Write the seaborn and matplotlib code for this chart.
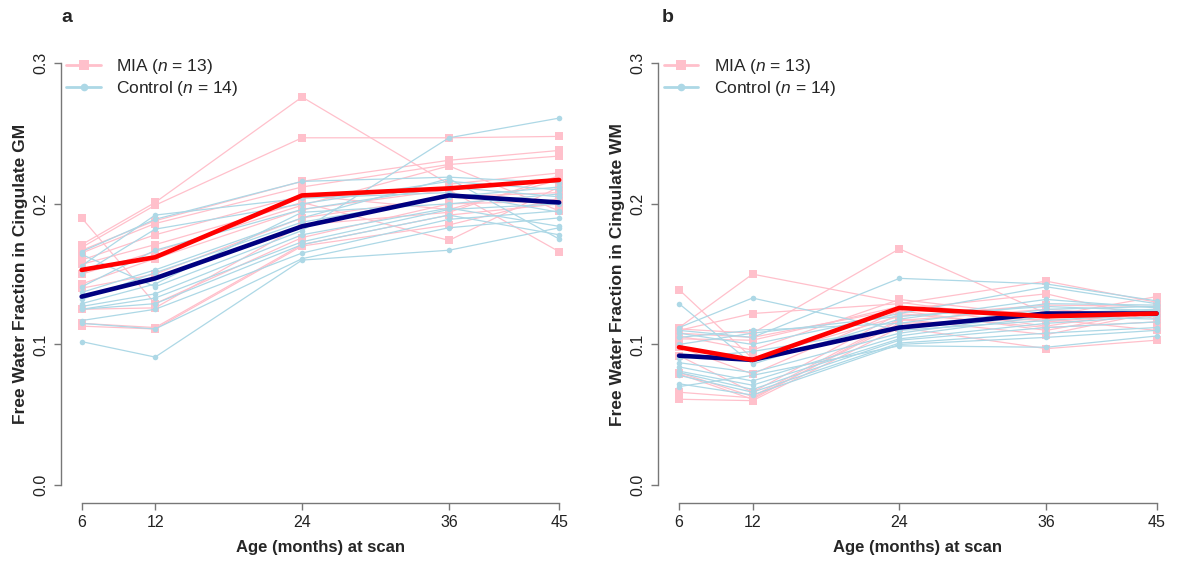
import pandas as pd
import matplotlib
matplotlib.use('Agg')
import matplotlib.pyplot as plt
from matplotlib.lines import Line2D
import seaborn as sns

'''
Free water fraction in cingulate GM / WM, MIA vs control,
thin lines = single animals, thick lines = group means
'''

ages = [6, 12, 24, 36, 45]
age_ticks = [6, 12, 24, 36, 45]
y_ticks = [0.0, 0.1, 0.2, 0.3]
y_ticklabels = ['0.0', '0.1', '0.2', '0.3']

#cingulate GM, one row per animal (values at 6, 12, 24, 36, 45 months)
gm_mia = [
    [0.190, 0.129, 0.176, 0.200, 0.202],
    [0.171, 0.201, 0.276, 0.214, 0.222],
    [0.169, 0.199, 0.247, 0.247, 0.248],
    [0.167, 0.188, 0.216, 0.231, 0.238],
    [0.165, 0.186, 0.212, 0.228, 0.234],
    [0.160, 0.178, 0.206, 0.196, 0.217],
    [0.157, 0.171, 0.201, 0.174, 0.212],
    [0.150, 0.166, 0.199, 0.227, 0.195],
    [0.143, 0.161, 0.196, 0.210, 0.166],
    [0.140, 0.150, 0.190, 0.205, 0.208],
    [0.125, 0.126, 0.185, 0.194, 0.220],
    [0.115, 0.112, 0.171, 0.192, 0.200],
    [0.113, 0.111, 0.170, 0.185, 0.204],
]
gm_control = [
    [0.166, 0.189, 0.216, 0.219, 0.215],
    [0.164, 0.141, 0.181, 0.247, 0.261],
    [0.156, 0.192, 0.204, 0.208, 0.194],
    [0.150, 0.182, 0.200, 0.216, 0.210],
    [0.141, 0.167, 0.196, 0.212, 0.205],
    [0.137, 0.153, 0.190, 0.218, 0.175],
    [0.132, 0.151, 0.187, 0.205, 0.212],
    [0.129, 0.143, 0.194, 0.200, 0.207],
    [0.127, 0.136, 0.178, 0.197, 0.184],
    [0.125, 0.133, 0.173, 0.196, 0.200],
    [0.125, 0.129, 0.171, 0.192, 0.178],
    [0.117, 0.125, 0.165, 0.189, 0.195],
    [0.115, 0.111, 0.161, 0.183, 0.190],
    [0.102, 0.091, 0.160, 0.167, 0.183],
]
gm_mia_mean = [0.153, 0.162, 0.206, 0.211, 0.217]
gm_control_mean = [0.134, 0.147, 0.184, 0.206, 0.201]

#cingulate WM
wm_mia = [
    [0.139, 0.090, 0.120, 0.128, 0.127],
    [0.112, 0.150, 0.130, 0.116, 0.122],
    [0.111, 0.108, 0.168, 0.122, 0.121],
    [0.110, 0.122, 0.129, 0.145, 0.130],
    [0.108, 0.105, 0.125, 0.136, 0.118],
    [0.106, 0.096, 0.132, 0.120, 0.134],
    [0.104, 0.103, 0.127, 0.113, 0.125],
    [0.098, 0.079, 0.124, 0.110, 0.124],
    [0.092, 0.066, 0.122, 0.112, 0.116],
    [0.080, 0.063, 0.118, 0.107, 0.123],
    [0.079, 0.061, 0.117, 0.125, 0.120],
    [0.066, 0.062, 0.115, 0.118, 0.110],
    [0.061, 0.060, 0.112, 0.097, 0.103],
]
wm_control = [
    [0.129, 0.086, 0.118, 0.132, 0.126],
    [0.112, 0.133, 0.110, 0.117, 0.122],
    [0.110, 0.105, 0.147, 0.143, 0.131],
    [0.108, 0.100, 0.122, 0.141, 0.129],
    [0.105, 0.110, 0.115, 0.129, 0.128],
    [0.100, 0.108, 0.120, 0.127, 0.124],
    [0.090, 0.095, 0.112, 0.125, 0.127],
    [0.087, 0.080, 0.108, 0.122, 0.125],
    [0.084, 0.074, 0.106, 0.120, 0.118],
    [0.081, 0.071, 0.104, 0.115, 0.120],
    [0.080, 0.068, 0.103, 0.112, 0.116],
    [0.078, 0.066, 0.101, 0.108, 0.112],
    [0.072, 0.064, 0.100, 0.105, 0.110],
    [0.070, 0.078, 0.099, 0.098, 0.106],
]
wm_mia_mean = [0.098, 0.089, 0.126, 0.120, 0.122]
wm_control_mean = [0.092, 0.089, 0.112, 0.122, 0.122]

n_mia = 13
n_control = 14

#style, R base graphics look
sns.set_style('ticks')
plt.rcParams['font.family'] = ['Liberation Sans', 'DejaVu Sans']
plt.rcParams['mathtext.fontset'] = 'custom'
plt.rcParams['mathtext.rm'] = 'Liberation Sans'
plt.rcParams['mathtext.it'] = 'Liberation Sans:italic'

axis_grey = '#777777'


def to_long(rows, group):
    recs = []
    for i, row in enumerate(rows):
        for age, v in zip(ages, row):
            recs.append((f'{group}_{i}', group, age, v))
    return pd.DataFrame(recs, columns=['subject', 'group', 'age', 'fwf'])


def draw_panel(ax, mia, control, mia_mean, control_mean, region):
    df_mia = to_long(mia, 'MIA')
    df_con = to_long(control, 'Control')

    #single animals
    sns.lineplot(data=df_mia, x='age', y='fwf', units='subject', estimator=None,
                 color='pink', lw=0.9, marker='s', markersize=5.2,
                 markeredgewidth=0, ax=ax, legend=False)
    sns.lineplot(data=df_con, x='age', y='fwf', units='subject', estimator=None,
                 color='lightblue', lw=0.9, marker='o', markersize=4.0,
                 markeredgewidth=0, ax=ax, legend=False)

    #group means
    sns.lineplot(x=ages, y=control_mean, color='navy', lw=3.3, ax=ax)
    sns.lineplot(x=ages, y=mia_mean, color='red', lw=3.3, ax=ax)

    ax.set_xlim(4.31, 46.7)
    ax.set_ylim(-0.0126, 0.3126)
    ax.set_xticks(age_ticks)
    ax.set_xticklabels([str(a) for a in age_ticks])
    ax.set_yticks(y_ticks)
    ax.set_yticklabels(y_ticklabels, rotation=90, va='center')

    sns.despine(ax=ax)
    ax.spines['left'].set_bounds(0, 0.3)
    ax.spines['bottom'].set_bounds(6, 45)
    for s in ['left', 'bottom']:
        ax.spines[s].set_color(axis_grey)
        ax.spines[s].set_linewidth(1.0)
    ax.tick_params(length=5, width=1, color=axis_grey, labelsize=11.5, pad=4,
                   labelcolor='#222222')

    ax.set_xlabel('Age (months) at scan', fontsize=12, fontweight='bold', labelpad=7)
    ax.set_ylabel(f'Free Water Fraction in Cingulate {region}', fontsize=12.5,
                  fontweight='bold', labelpad=4)

    handles = [
        Line2D([], [], color='pink', lw=2, marker='s', markersize=6.5, markeredgewidth=0),
        Line2D([], [], color='lightblue', lw=2, marker='o', markersize=5.5, markeredgewidth=0),
    ]
    labels = [f'MIA ($n$ = {n_mia})', f'Control ($n$ = {n_control})']
    ax.legend(handles, labels, loc='upper left', bbox_to_anchor=(0.01, 0.975),
              frameon=False, fontsize=12.5, handlelength=2.0, handletextpad=0.9,
              labelspacing=0.2, borderpad=0, borderaxespad=0)


fig = plt.figure(figsize=(11.79, 5.62), dpi=100)
ax_a = fig.add_axes([0.0517, 0.1055, 0.4402, 0.8134])
ax_b = fig.add_axes([0.5584, 0.1055, 0.4402, 0.8134])

draw_panel(ax_a, gm_mia, gm_control, gm_mia_mean, gm_control_mean, 'GM')
draw_panel(ax_b, wm_mia, wm_control, wm_mia_mean, wm_control_mean, 'WM')

fig.text(66.7 / 1179, 1 - 18 / 562, 'a', fontsize=14, fontweight='bold', ha='center', va='center')
fig.text(668 / 1179, 1 - 18 / 562, 'b', fontsize=14, fontweight='bold', ha='center', va='center')

fig.savefig('out.png', dpi=100)
